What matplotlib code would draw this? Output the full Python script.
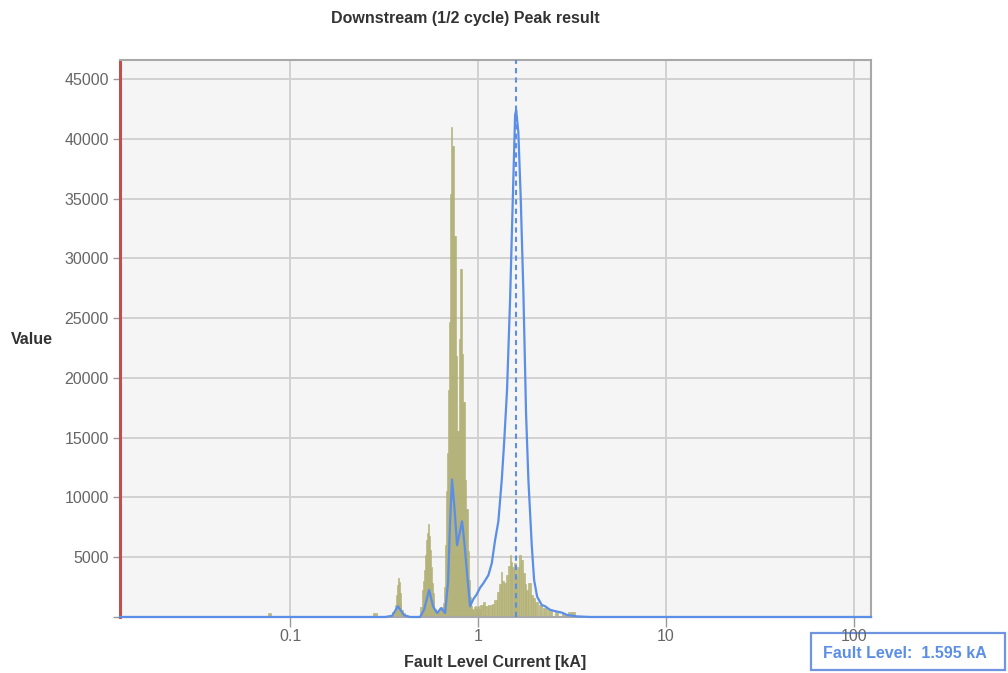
import matplotlib
matplotlib.use("Agg")
import matplotlib.pyplot as plt
from matplotlib.patches import Rectangle
import numpy as np

plt.rcParams['font.family'] = ['Liberation Sans', 'DejaVu Sans']

# histogram of fault level samples (kA -> count)
hist_ka = [0.078, 0.283,
           0.357, 0.362, 0.366, 0.371, 0.375, 0.380, 0.385, 0.389, 0.394, 0.399,
           0.498, 0.504, 0.510, 0.516, 0.523, 0.529, 0.536, 0.542, 0.549, 0.556,
           0.562, 0.569, 0.576, 0.583, 0.590, 0.598, 0.605, 0.613, 0.620, 0.628,
           0.636, 0.643, 0.651,
           0.660, 0.668, 0.676, 0.684, 0.693, 0.701, 0.710, 0.719, 0.727, 0.736,
           0.746, 0.755, 0.764, 0.773, 0.783, 0.793, 0.802, 0.812, 0.822, 0.832,
           0.843, 0.853, 0.863, 0.874, 0.885, 0.896, 0.907, 0.918,
           0.929, 0.941, 0.952, 0.964, 0.976, 0.988, 1.000, 1.012, 1.025,
           1.050, 1.067, 1.103, 1.158, 1.202, 1.231, 1.278, 1.309, 1.337, 1.358,
           1.392, 1.432, 1.462, 1.480, 1.508, 1.530, 1.574, 1.607, 1.632, 1.659,
           1.708, 1.758, 1.790, 1.817, 1.875, 1.931, 1.987, 2.053, 2.138, 2.272,
           2.416, 2.622, 2.843, 3.086, 3.214]
hist_cnt = [300, 350,
            400, 1000, 1800, 2700, 3270, 2900, 2000, 1200, 600, 300,
            800, 2260, 3000, 3940, 5200, 6450, 7000, 7750, 6800, 5600,
            4200, 2850, 2000, 1400, 700, 350, 400, 500, 600, 700,
            700, 800, 1200,
            2500, 6000, 10500, 13700, 19000, 24700, 35400, 41000, 39400, 39400,
            31900, 31900, 21800, 15600, 15600, 23300, 29100, 29100, 22000, 18000,
            18000, 11500, 9000, 9000, 5500, 3100, 1700, 900,
            700, 600, 800, 900, 700, 800, 900, 700, 1000,
            1000, 1280, 900, 1000, 1100, 1420, 2120, 2800, 3800, 3000,
            2850, 3520, 4300, 5200, 4600, 4200, 4520, 3380, 4200, 5200,
            4780, 3690, 2800, 2260, 2850, 1840, 1570, 1280, 1000, 730,
            590, 450, 330, 440, 400]

# smoothed density curve
curve_ka = [0.01246, 0.320, 0.349, 0.375, 0.404, 0.435, 0.491, 0.516, 0.549,
            0.576, 0.605, 0.636, 0.668, 0.693, 0.710, 0.727, 0.750, 0.773,
            0.797, 0.822, 0.848, 0.877, 0.907, 0.944, 0.984, 1.025, 1.067,
            1.135, 1.183, 1.231, 1.282, 1.337, 1.375, 1.426, 1.480, 1.530,
            1.574, 1.595, 1.638, 1.687, 1.742, 1.800, 1.852, 1.930, 1.986,
            2.061, 2.182, 2.272, 2.416, 2.600, 2.798, 2.975, 3.363, 3.944, 123.0]
curve_val = [0, 0, 100, 900, 150, 0, 0, 600, 2260,
             900, 330, 750, 330, 3000, 8000, 11500, 9000, 6000,
             7000, 8000, 6000, 3380, 900, 1500, 1900, 2450, 2820,
             3500, 4500, 6400, 8000, 11500, 14500, 19000, 26560, 34940,
             42000, 42400, 40540, 34940, 27150, 17000, 11480, 6000, 3100,
             1700, 1000, 900, 600, 470, 360, 170, 50, 0, 0]

fault_level = 1.595
y_ticks = [0, 5000, 10000, 15000, 20000, 25000, 30000, 35000, 40000, 45000]
x_ticks = [0.1, 1, 10, 100]
x_labels = ['0.1', '1', '10', '100']

fig = plt.figure(figsize=(10.08, 6.73), dpi=100)
ax = fig.add_axes([120/1008, 1-617/673, 751/1008, 557/673])
ax.set_facecolor('#f5f5f5')
ax.set_xscale('log')

# bar edges: geometric midpoints, capped to a narrow width
logs = np.log10(hist_ka)
hw = 1.6/188
mid = (logs[1:] + logs[:-1]) / 2
left = np.maximum(np.concatenate([[logs[0]-hw], mid]), logs-hw)
right = np.minimum(np.concatenate([mid, [logs[-1]+hw]]), logs+hw)
ax.bar(10**left, hist_cnt, width=10**right - 10**left, align='edge',
       color='#bcba82', edgecolor='#aeac72', linewidth=0.4, zorder=2)

blue = '#5b8ee6'
ax.plot(curve_ka, curve_val, color=blue, lw=1.6, zorder=3, clip_on=False)
ax.axvline(fault_level, color=blue, lw=1.5, ls=(0, (2.5, 2)), zorder=4)

ax.set_xlim(0.01246, 123.0)
ax.set_ylim(0, 46600)
ax.set_xticks(x_ticks)
ax.set_xticklabels(x_labels)
ax.xaxis.set_minor_locator(matplotlib.ticker.NullLocator())
ax.set_yticks(y_ticks)
ax.set_yticklabels([''] + [str(v) for v in y_ticks[1:]])
ax.grid(True, color='#d2d2d2', lw=1.4, zorder=0)
ax.set_axisbelow(True)
ax.tick_params(axis='both', colors='#999999', labelcolor='#666666',
               labelsize=11.5, length=5, width=1)
ax.tick_params(axis='x', length=7, pad=1.5)
ax.tick_params(axis='y', pad=3)

ax.spines['left'].set_color('#c0504d')
ax.spines['left'].set_linewidth(2.2)
for s in ['top', 'right', 'bottom']:
    ax.spines[s].set_color('#a8a8a8')
    ax.spines[s].set_linewidth(1.5)

fig.text(465/1008, 1-18/673, 'Downstream (1/2 cycle) Peak result', ha='center',
         va='center', fontsize=11.5, fontweight='bold', color='#333333')
fig.text(32/1008, 1-340/673, 'Value', ha='center', va='center',
         fontsize=11.5, fontweight='bold', color='#333333')
fig.text(495/1008, 1-662/673, 'Fault Level Current [kA]', ha='center',
         va='center', fontsize=11.5, fontweight='bold', color='#333333')

# info box sits under the "100" tick label, as in the original
fig.patches.append(Rectangle((811/1008, 1-670/673), 194/1008, 37/673,
                             transform=fig.transFigure, facecolor='white',
                             edgecolor='#6f95e0', lw=1.6, zorder=-1))
fig.text(823/1008, 1-653/673, 'Fault Level:  %.3f kA' % fault_level,
         ha='left', va='center', fontsize=11.5, fontweight='bold',
         color='#5b8ee6', zorder=6)

fig.savefig('out.png', dpi=100)
